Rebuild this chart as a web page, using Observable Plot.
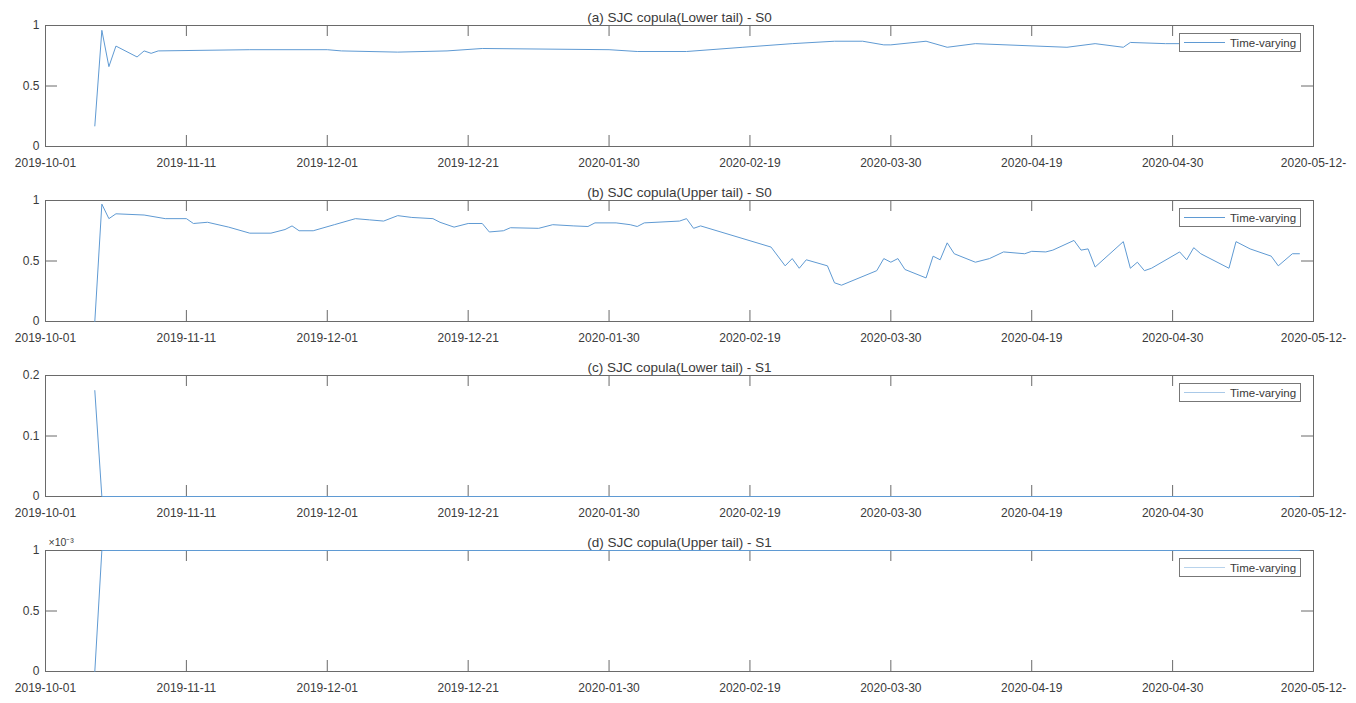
<!DOCTYPE html>
<html>
<head>
<meta charset="utf-8">
<script src="https://cdn.jsdelivr.net/npm/d3@7"></script>
<script src="https://cdn.jsdelivr.net/npm/@observablehq/plot@0.6"></script>
<style>
  body { margin: 0; background: #fff; }
  #chart { width: 1356px; }
  .panel { position: relative; width: 1356px; height: 175px; }
  .panel svg { display: block; }
  .legend { position: absolute; box-sizing: border-box; background: #fff; border: 1px solid #777;
            font: 11.5px "Liberation Sans", Arial, sans-serif; color: #3a3a3a; display: flex; align-items: center; }
  .legend .swatch { display: inline-block; width: 41px; margin: 0 5px 0 4px; }
</style>
</head>
<body>
<div id="chart"></div>
<script>
// ---- data ----
const xTickPositions = [0, 20, 40, 60, 80, 100, 120, 140, 160, 180];
const xTickLabels = ["2019-10-01", "2019-11-11", "2019-12-01", "2019-12-21", "2020-01-30",
                     "2020-02-19", "2020-03-30", "2020-04-19", "2020-04-30", "2020-05-12-"];

const titles = ["(a) SJC copula(Lower tail) - S0", "(b) SJC copula(Upper tail) - S0",
                "(c) SJC copula(Lower tail) - S1", "(d) SJC copula(Upper tail) - S1"];
const legendLabel = "Time-varying";

// (a) lower tail S0
const aIndex = [7, 8, 9, 10, 13, 14, 15, 16, 29, 40, 42, 50, 57, 62, 80, 84, 91, 99, 106, 112, 116, 119, 120,
                125, 128, 132, 145, 149, 153, 154, 159, 164, 178];
const aValue = [0.17, 0.96, 0.66, 0.83, 0.74, 0.79, 0.77, 0.79, 0.80, 0.80, 0.79, 0.78, 0.79, 0.81, 0.80, 0.785,
                0.785, 0.82, 0.85, 0.87, 0.87, 0.84, 0.84, 0.87, 0.82, 0.85, 0.82, 0.85, 0.82, 0.86, 0.85, 0.85, 0.85];

// (b) upper tail S0
const bIndex = [7, 8, 9, 10, 14, 17, 20, 21, 23, 26, 29, 32, 34, 35, 36, 38, 41, 44, 46, 48, 50, 52, 55, 56, 58,
                60, 62, 63, 65, 66, 70, 72, 75, 77, 78, 81, 83, 84, 85, 90, 91, 92, 93, 103, 105, 106, 107, 108,
                111, 112, 113, 118, 119, 120, 121, 122, 125, 126, 127, 128, 129, 132, 134, 136, 139, 140, 142,
                143, 146, 147, 148, 149, 153, 154, 155, 156, 157, 161, 162, 163, 164, 168, 169, 171, 174, 175, 177, 178];
const bValue = [0, 0.97, 0.85, 0.89, 0.88, 0.85, 0.85, 0.81, 0.82, 0.78, 0.73, 0.73, 0.76, 0.79, 0.75, 0.75, 0.80,
                0.85, 0.84, 0.83, 0.875, 0.86, 0.85, 0.82, 0.78, 0.81, 0.81, 0.74, 0.75, 0.775, 0.77, 0.80, 0.79,
                0.785, 0.815, 0.815, 0.80, 0.785, 0.815, 0.83, 0.85, 0.77, 0.79, 0.615, 0.46, 0.52, 0.44, 0.51,
                0.46, 0.32, 0.30, 0.42, 0.52, 0.49, 0.52, 0.43, 0.36, 0.54, 0.51, 0.65, 0.56, 0.49, 0.52, 0.575,
                0.56, 0.58, 0.575, 0.59, 0.67, 0.59, 0.60, 0.45, 0.66, 0.44, 0.49, 0.42, 0.44, 0.575, 0.51, 0.61,
                0.56, 0.44, 0.66, 0.60, 0.54, 0.46, 0.56, 0.56];

// (c) lower tail S1
const cIndex = [7, 8, 178];
const cValue = [0.175, 0, 0];

// (d) upper tail S1
const dIndex = [7, 8, 178];
const dValue = [0, 0.001, 0.001];

const yTicksAB = [0, 0.5, 1];
const yTicksC = [0, 0.1, 0.2];
const yTicksD = [0, 0.0005, 0.001];

// ---- drawing ----
const panels = [
  {idx: aIndex, val: aValue, yMax: 1, yTicks: yTicksAB, fmt: d => d3.format("~g")(d), legendColor: "#5f9ad3"},
  {idx: bIndex, val: bValue, yMax: 1, yTicks: yTicksAB, fmt: d => d3.format("~g")(d), legendColor: "#5f9ad3"},
  {idx: cIndex, val: cValue, yMax: 0.2, yTicks: yTicksC, fmt: d => d3.format("~g")(d), legendColor: "#a9c9e8"},
  {idx: dIndex, val: dValue, yMax: 0.001, yTicks: yTicksD, fmt: d => d3.format("~g")(d * 1000), legendColor: "#b8d3ec", exponent: "×10⁻³"}
];

const W = 1356, H = 175, mL = 45, mR = 43, mT = 25, mB = 29;
const innerW = W - mL - mR, innerH = H - mT - mB;
const tickLen = 11, axisColor = "#6a6a6a", textColor = "#3a3a3a", lineColor = "#5f9ad3";
const font = '"Liberation Sans", Arial, Helvetica, sans-serif';

const chart = document.getElementById("chart");

panels.forEach((p, k) => {
  const pts = p.idx.map((x, i) => ({x, y: p.val[i]}));
  const marks = [
    Plot.frame({stroke: axisColor}),
    Plot.tickX(xTickPositions, {x: d => d, insetBottom: innerH - tickLen, stroke: axisColor}),
    Plot.tickX(xTickPositions, {x: d => d, insetTop: innerH - tickLen, stroke: axisColor}),
    Plot.tickY(p.yTicks, {y: d => d, insetRight: innerW - 12, stroke: axisColor}),
    Plot.tickY(p.yTicks, {y: d => d, insetLeft: innerW - 12, stroke: axisColor}),
    Plot.axisX(xTickPositions, {tickSize: 0, tickPadding: 12, tickFormat: d => xTickLabels[xTickPositions.indexOf(d)],
                                label: null, fill: textColor, fontSize: 12}),
    Plot.axisY(p.yTicks, {tickSize: 0, tickPadding: 6, tickFormat: p.fmt, label: null, fill: textColor, fontSize: 12}),
    Plot.line(pts, {x: "x", y: "y", stroke: lineColor, strokeWidth: 1}),
    Plot.text([titles[k]], {frameAnchor: "top", lineAnchor: "middle", dy: -8, fill: textColor, fontSize: 13.5})
  ];
  if (p.exponent) {
    marks.push(Plot.text([p.exponent], {frameAnchor: "top-left", lineAnchor: "middle", textAnchor: "start",
                                        dx: 3, dy: -8, fill: textColor, fontSize: 10.5}));
  }
  const svg = Plot.plot({
    width: W, height: H,
    marginLeft: mL, marginRight: mR, marginTop: mT, marginBottom: mB,
    x: {type: "linear", domain: [0, 180]},
    y: {type: "linear", domain: [0, p.yMax]},
    style: {fontFamily: font, fontSize: "12px", color: textColor, background: "white", overflow: "visible"},
    marks
  });
  const wrap = document.createElement("div");
  wrap.className = "panel";
  wrap.appendChild(svg);
  const leg = document.createElement("div");
  leg.className = "legend";
  Object.assign(leg.style, {left: "1179px", top: (mT + 8) + "px", width: "122px", height: "19px"});
  const sw = document.createElement("span");
  sw.className = "swatch";
  sw.style.borderTop = `1.2px solid ${p.legendColor}`;
  const lab = document.createElement("span");
  lab.textContent = legendLabel;
  leg.appendChild(sw);
  leg.appendChild(lab);
  wrap.appendChild(leg);
  chart.appendChild(wrap);
});
</script>
</body>
</html>
